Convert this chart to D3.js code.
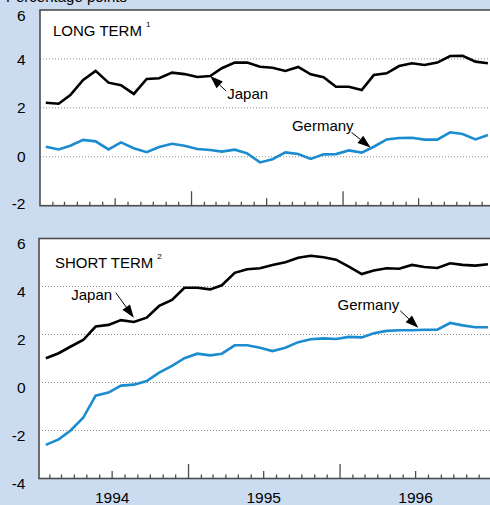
<!DOCTYPE html>
<html>
<head>
<meta charset="utf-8">
<script src="https://cdn.jsdelivr.net/npm/d3@7"></script>
<style>
  body { margin: 0; background: #cbdcf0; }
  svg { display: block; font-family: "Liberation Sans", Arial, Helvetica, sans-serif; }
</style>
</head>
<body>
<svg id="chart" width="490" height="505"></svg>
<script>
// monthly values, Jan 1994 - Dec 1996
const japanLong = [2.21, 2.17, 2.52, 3.14, 3.51, 3.03, 2.93, 2.57, 3.18, 3.21, 3.44, 3.38,
                   3.26, 3.30, 3.62, 3.85, 3.85, 3.68, 3.64, 3.51, 3.67, 3.37, 3.25, 2.86,
                   2.86, 2.73, 3.34, 3.41, 3.71, 3.82, 3.75, 3.85, 4.12, 4.13, 3.89, 3.82];
const germanyLong = [0.41, 0.30, 0.45, 0.69, 0.63, 0.30, 0.59, 0.35, 0.19, 0.40, 0.53, 0.45,
                     0.32, 0.28, 0.21, 0.29, 0.14, -0.23, -0.10, 0.18, 0.11, -0.09, 0.10, 0.11,
                     0.26, 0.17, 0.41, 0.71, 0.77, 0.78, 0.70, 0.70, 1.00, 0.93, 0.71, 0.89];
const japanShort = [1.01, 1.22, 1.49, 1.77, 2.33, 2.40, 2.60, 2.52, 2.70, 3.19, 3.44, 3.95,
                    3.95, 3.88, 4.05, 4.57, 4.72, 4.76, 4.90, 5.01, 5.20, 5.28, 5.22, 5.12,
                    4.83, 4.52, 4.67, 4.76, 4.74, 4.90, 4.81, 4.77, 4.97, 4.90, 4.87, 4.93];
const germanyShort = [-2.60, -2.37, -2.01, -1.47, -0.55, -0.42, -0.13, -0.09, 0.06, 0.41, 0.69, 1.01,
                      1.20, 1.13, 1.20, 1.55, 1.55, 1.45, 1.31, 1.45, 1.68, 1.80, 1.84, 1.81,
                      1.90, 1.88, 2.05, 2.15, 2.18, 2.18, 2.20, 2.20, 2.48, 2.38, 2.30, 2.30];
const yearLabels = ["1994", "1995", "1996"];
const longTicks = [-2, 0, 2, 4, 6];
const shortTicks = [-4, -2, 0, 2, 4, 6];

const svg = d3.select("#chart");
const BLUE = "#1a8ccf", FRAME = "#4d4d4d";

const months = d3.timeMonth.range(new Date(1994, 0, 1), new Date(1997, 0, 1));
const mid = d => new Date(d.getFullYear(), d.getMonth(), 15);

const x = d3.scaleTime()
    .domain([new Date(1994, 0, 1), new Date(1997, 0, 1)])
    .range([40, 495]);

// axis title, cut off by the top edge as in the original
svg.append("text")
    .attr("x", 6).attr("y", 2)
    .attr("font-size", 15)
    .text("Percentage points");

const panels = [
    {
        top: 10, bottom: 205.7, left: 40, domain: [-2, 6], ticks: longTicks, grid: [0, 2, 4],
        title: "LONG TERM", note: "1", titleX: 53, titleY: 35.5, axisShift: 0, labelShift: 0,
        series: [
            { values: germanyLong, color: BLUE },
            { values: japanLong, color: "#000" }
        ],
        notes: [
            { text: "Japan", at: [13, 3.30], tail: [16, 15], label: [17, 23], anchor: "start" },
            { text: "Germany", at: [25.7, 0.38], tail: [-19, -15], label: [-17, -16.7], anchor: "end" }
        ]
    },
    {
        top: 238.5, bottom: 478.5, left: 39, domain: [-4, 6], ticks: shortTicks, grid: [-2, 0, 2, 4],
        title: "SHORT TERM", note: "2", titleX: 55, titleY: 267.5, axisShift: -3, labelShift: 5,
        series: [
            { values: germanyShort, color: BLUE },
            { values: japanShort, color: "#000" }
        ],
        notes: [
            { text: "Japan", at: [7, 2.70], tail: [-18, -25], label: [-21.7, -17.7], anchor: "end" },
            { text: "Germany", at: [29.5, 2.28], tail: [-18, -17], label: [-19, -17.7], anchor: "end" }
        ]
    }
];

// month index (can be fractional) -> date at mid-month
const idxDate = i => {
    const d = mid(months[Math.floor(i)]);
    return new Date(+d + (i - Math.floor(i)) * 30.4 * 864e5);
};

panels.forEach((p, pi) => {
    const y = d3.scaleLinear().domain(p.domain).range([p.bottom, p.top]);
    const g = svg.append("g");

    g.append("rect")
        .attr("x", p.left).attr("y", p.top)
        .attr("width", 500 - p.left).attr("height", p.bottom - p.top)
        .attr("fill", "#fff");

    g.selectAll(".grid").data(p.grid).join("line")
        .attr("x1", p.left).attr("x2", 490)
        .attr("y1", d => y(d)).attr("y2", d => y(d))
        .attr("stroke", "#8a8a8a").attr("stroke-width", 1)
        .attr("stroke-dasharray", "1,2");

    const line = d3.line()
        .x((d, i) => x(mid(months[i])))
        .y(d => y(d));

    p.series.forEach(s => {
        g.append("path")
            .datum(s.values)
            .attr("fill", "none")
            .attr("stroke", s.color)
            .attr("stroke-width", 2.6)
            .attr("stroke-linejoin", "miter")
            .attr("d", line);
    });

    // frame
    g.append("rect")
        .attr("x", p.left).attr("y", p.top)
        .attr("width", 520 - p.left).attr("height", p.bottom - p.top)
        .attr("fill", "none").attr("stroke", FRAME).attr("stroke-width", 1.6);

    // month ticks: tall at year start, medium at mid-year
    const tickG = g.append("g").attr("transform", `translate(${p.axisShift},0)`);
    tickG.selectAll("line").data(months.slice(1)).join("line")
        .attr("x1", d => x(d)).attr("x2", d => x(d))
        .attr("y1", p.bottom)
        .attr("y2", d => p.bottom - (d.getMonth() === 0 ? 14.5 : d.getMonth() === 6 ? 7.5 : 4))
        .attr("stroke", FRAME).attr("stroke-width", 1.3);

    // y labels
    g.selectAll(".ylab").data(p.ticks).join("text")
        .attr("x", 25.5)
        .attr("y", d => {
            let yy = y(d) + p.labelShift;
            if (pi === 0) yy = Math.min(Math.max(yy, p.top + 5), p.bottom - 2.7);
            return yy;
        })
        .attr("dy", "0.36em")
        .attr("text-anchor", "end")
        .attr("font-size", 15.5)
        .text(d => d);

    // title
    const t = g.append("text")
        .attr("x", p.titleX).attr("y", p.titleY)
        .attr("font-size", 15);
    t.append("tspan").text(p.title);
    t.append("tspan").attr("dx", 4).attr("dy", -9).attr("font-size", 8).text(p.note);

    // annotations with arrows
    p.notes.forEach(n => {
        const tx = x(idxDate(n.at[0])), ty = y(n.at[1]);
        const sx = tx + n.tail[0], sy = ty + n.tail[1];
        const ang = Math.atan2(ty - sy, tx - sx);
        const len = 13, hw = 4.6;
        const bx = tx - len * Math.cos(ang), by = ty - len * Math.sin(ang);
        g.append("line")
            .attr("x1", sx).attr("y1", sy).attr("x2", bx).attr("y2", by)
            .attr("stroke", "#000").attr("stroke-width", 1);
        g.append("path")
            .attr("d", `M${tx},${ty}L${bx - hw * Math.sin(ang)},${by + hw * Math.cos(ang)}L${bx + hw * Math.sin(ang)},${by - hw * Math.cos(ang)}Z`)
            .attr("fill", "#000");
        g.append("text")
            .attr("x", tx + n.label[0]).attr("y", ty + n.label[1])
            .attr("text-anchor", n.anchor)
            .attr("font-size", 15)
            .text(n.text);
    });

    if (pi === 1) {
        svg.selectAll(".year").data(yearLabels).join("text")
            .attr("x", d => x(new Date(+d, 6, 1)) + p.axisShift)
            .attr("y", 502.5)
            .attr("text-anchor", "middle")
            .attr("font-size", 15.5)
            .text(d => d);
    }
});
</script>
</body>
</html>
